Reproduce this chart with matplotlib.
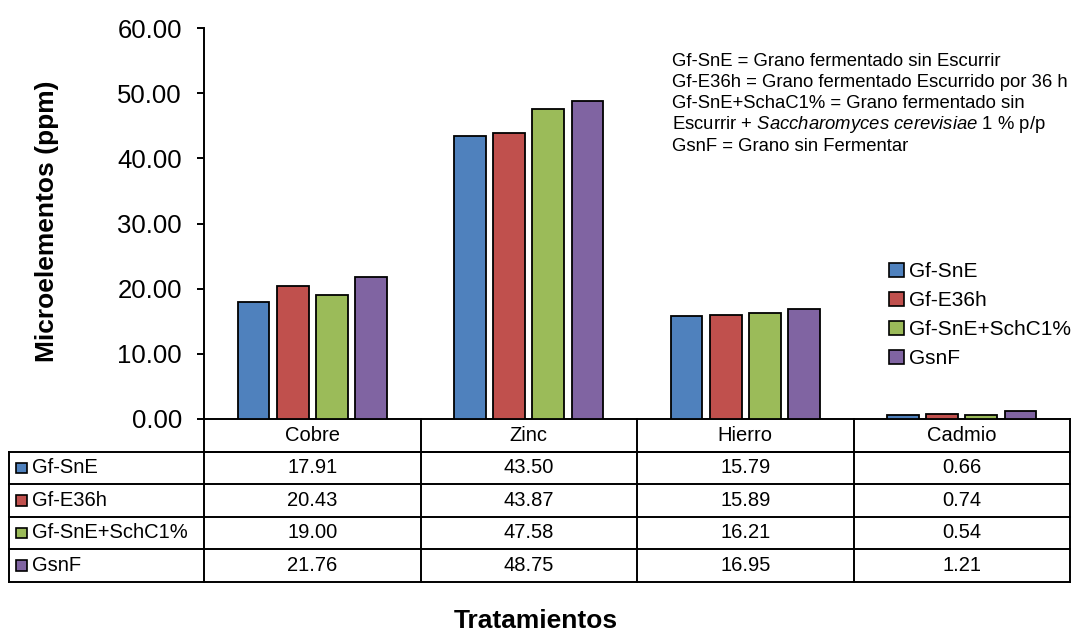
import matplotlib
matplotlib.use("Agg")
import matplotlib.pyplot as plt
from matplotlib.patches import Rectangle
from matplotlib.transforms import blended_transform_factory

plt.rcParams['font.family'] = ['Liberation Sans', 'DejaVu Sans']
plt.rcParams['mathtext.fontset'] = 'custom'
plt.rcParams['mathtext.rm'] = 'Liberation Sans'
plt.rcParams['mathtext.it'] = 'Liberation Sans:italic'

# Data
categories = ["Cobre", "Zinc", "Hierro", "Cadmio"]
series_names = ["Gf-SnE", "Gf-E36h", "Gf-SnE+SchC1%", "GsnF"]
gf_sne = [17.91, 43.50, 15.79, 0.66]
gf_e36h = [20.43, 43.87, 15.89, 0.74]
gf_sne_schc1 = [19.00, 47.58, 16.21, 0.54]
gsnf = [21.76, 48.75, 16.95, 1.21]
series_values = [gf_sne, gf_e36h, gf_sne_schc1, gsnf]
colors = ["#4F81BD", "#C0504D", "#9BBB59", "#8064A2"]
yticks = [0, 10, 20, 30, 40, 50, 60]

W, H = 1073, 632
fig = plt.figure(figsize=(W / 100, H / 100), dpi=100)
ax = fig.add_axes([204 / W, (H - 419) / H, (1070 - 204) / W, (419 - 28) / H])

# Clustered bars
bar_w = 0.147
step = 0.181
n = len(series_values)
for k, (vals, col, name) in enumerate(zip(series_values, colors, series_names)):
    xs = [i + (k - (n - 1) / 2) * step for i in range(len(categories))]
    ax.bar(xs, vals, width=bar_w, color=col, edgecolor="black",
           linewidth=1.3, label=name, zorder=3)

ax.set_xlim(-0.5, len(categories) - 0.5)
ax.set_ylim(0, 60)
ax.set_yticks(yticks)
ax.set_yticklabels([f"{v:.2f}" for v in yticks], fontsize=18.5)
ax.set_xticks([])
for s in ["top", "right"]:
    ax.spines[s].set_visible(False)
for s in ["left", "bottom"]:
    ax.spines[s].set_linewidth(1.4)
ax.tick_params(axis="y", length=5, width=1.4, pad=11)

# Data table below the plot
tr = blended_transform_factory(ax.transData, ax.transAxes)
rh = 32.5 / 391.0
xl = -0.5 - 195 / 216.5
xr = len(categories) - 0.5
lw = 1.4
line_kw = dict(color="black", linewidth=lw, transform=tr, clip_on=False,
               solid_capstyle="projecting")

ax.plot([-0.5, xr], [-rh, -rh], **line_kw)
for k in range(1, n + 2):
    ax.plot([xl, xr], [-k * rh, -k * rh], **line_kw)
ax.plot([xl, xl], [-rh, -(n + 1) * rh], **line_kw)
for b in [i - 0.5 for i in range(len(categories) + 1)]:
    ax.plot([b, b], [0, -(n + 1) * rh], **line_kw)

for i, cat in enumerate(categories):
    ax.text(i, -0.5 * rh, cat, transform=tr, ha="center", va="center",
            fontsize=14.5, clip_on=False)

key_w = 10.5 / 216.5
key_h = 10.5 / 391.0
for k, (vals, col, name) in enumerate(zip(series_values, colors, series_names)):
    yc = -(k + 1.5) * rh
    ax.add_patch(Rectangle((xl + 0.034, yc - key_h / 2), key_w, key_h,
                           facecolor=col, edgecolor="black", linewidth=1.2,
                           transform=tr, clip_on=False))
    ax.text(xl + 0.104, yc, name, transform=tr, ha="left", va="center",
            fontsize=14.5, clip_on=False)
    for i, v in enumerate(vals):
        ax.text(i, yc, f"{v:.2f}", transform=tr, ha="center", va="center",
                fontsize=14.5, clip_on=False)

# Legend
handles, labels = ax.get_legend_handles_labels()
leg = ax.legend(handles, labels, loc="upper left",
                bbox_to_anchor=(881 / W, 1 - 254 / H),
                bbox_transform=fig.transFigure, frameon=False,
                fontsize=15, handlelength=0.7, handleheight=0.7,
                handletextpad=0.25, labelspacing=0.48, borderaxespad=0)
for p in leg.get_patches():
    p.set_linewidth(1.2)

# Abbreviation notes
notes = [
    "Gf-SnE = Grano fermentado sin Escurrir",
    "Gf-E36h = Grano fermentado Escurrido por 36 h",
    "Gf-SnE+SchaC1% = Grano fermentado sin",
    r"Escurrir + $\it{Saccharomyces\ cerevisiae}$ 1 % p/p",
    "GsnF = Grano sin Fermentar",
]
for j, line in enumerate(notes):
    fig.text(672 / W, 1 - (61 + j * 21.3) / H, line, fontsize=13.3,
             ha="left", va="center")

# Axis titles
fig.text(47 / W, 1 - 221 / H, "Microelementos (ppm)", rotation=90,
         fontsize=19, fontweight="bold", ha="center", va="center")
fig.text(536 / W, 1 - 628 / H, "Tratamientos", fontsize=19,
         fontweight="bold", ha="center", va="baseline")

fig.savefig("out.png", dpi=100)
